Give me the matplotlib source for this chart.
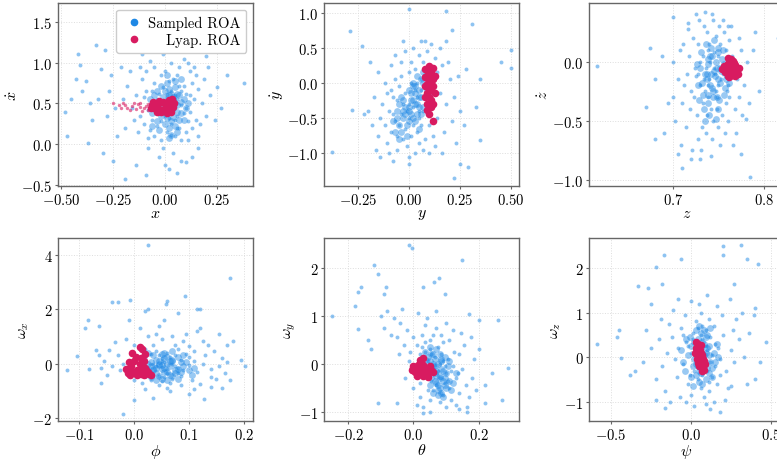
import matplotlib
matplotlib.use("Agg")
import matplotlib.pyplot as plt
from matplotlib.lines import Line2D
from matplotlib.ticker import FuncFormatter

plt.rcParams['font.family'] = ['cmr10', 'DejaVu Sans']
plt.rcParams['mathtext.fontset'] = 'cm'
plt.rcParams['axes.unicode_minus'] = True

BLUE = '#1E88E5'
RED = '#D81B60'

# ---------------- Panel 1: x vs xdot ----------------
p1_blue_x = [0.00,0.02,-0.03,0.05,-0.06,0.08,-0.01,0.03,0.06,-0.04,
             0.01,0.10,-0.08,0.04,-0.02,0.07,0.12,-0.10,0.00,0.03,
             -0.05,0.09,-0.07,0.02,0.11,-0.12,0.05,-0.03,0.06,0.14,
             -0.09,0.01,0.08,-0.04,0.13,-0.01,0.04,-0.06,0.10,0.07,
             -0.11,0.15,-0.02,0.03,0.09,-0.08,0.16,-0.05,0.00,0.06,
             -0.14,0.12,-0.03,0.02,0.18,-0.10,0.05,-0.07,0.11,0.01,
             -0.16,0.08,0.04,-0.13,0.14,-0.01,0.19,0.06,-0.09,0.10,
             -0.18,0.03,0.13,-0.04,0.07,-0.15,0.16,0.00,0.09,-0.06,
             0.20,-0.12,0.05,-0.20,0.12,-0.02,0.15,-0.08,0.02,0.22,
             -0.19,0.08,-0.11,0.17,-0.24,0.11,-0.05,0.21,-0.17,0.06,
             -0.48,-0.47,-0.42,-0.41,-0.40,-0.43,-0.33,-0.29,-0.38,-0.35,
             0.38,0.25,-0.19,-0.30,0.10,0.20,-0.22,-0.37,-0.26,-0.32,
             -0.25,0.24,-0.28,0.22,-0.14,0.16,-0.36,-0.31,0.27,-0.23,
             -0.45,0.30,-0.09,0.13,-0.27,0.18,-0.04,-0.13,0.09,-0.21]
p1_blue_y = [0.45,0.52,0.38,0.60,0.30,0.48,0.70,0.25,0.35,0.55,
             0.15,0.62,0.42,0.80,0.05,0.20,0.40,0.58,0.90,0.65,
             0.75,0.72,0.18,0.32,0.28,0.35,0.10,0.62,0.85,0.55,
             0.65,0.58,0.05,0.22,0.75,-0.05,0.42,0.50,0.15,0.95,
             0.80,0.30,0.28,1.00,0.38,0.08,0.68,0.95,0.35,0.55,
             0.60,0.90,-0.15,0.78,0.50,0.25,0.30,1.02,0.05,0.62,
             0.45,0.65,-0.10,0.15,0.95,1.10,0.80,0.20,0.90,0.45,
             0.72,0.12,0.20,0.40,0.72,0.30,0.10,-0.25,1.05,0.65,
             0.35,0.95,1.15,0.55,0.60,0.85,0.85,-0.05,-0.30,0.60,
             0.20,-0.20,1.10,0.25,0.45,1.00,0.10,0.95,0.90,-0.35,
             0.40,0.10,1.10,0.97,0.65,0.80,1.22,1.16,0.78,0.30,
             0.75,0.70,-0.42,-0.10,-0.22,1.08,1.14,0.02,0.85,0.55,
             -0.20,0.30,0.35,1.15,-0.25,-0.05,0.50,0.92,0.45,0.10,
             0.55,0.85,-0.38,-0.15,0.65,1.20,1.25,1.20,1.22,0.95]
p1_core_x = [0.01,-0.02,0.04,0.06,-0.05,0.03,0.00,0.08,-0.03,0.05,0.02,-0.06,0.07,0.01,-0.01,0.04,0.09,-0.04,0.03,0.06,
             0.00,0.05,-0.02,0.08,0.02,-0.07,0.04,0.10,-0.03,0.01,0.06,0.03,-0.05,0.07,0.00,0.05,-0.01,0.09,0.02,0.04,
             -0.04,0.06,0.01,0.08,-0.02,0.03,0.11,0.05,-0.06,0.02]
p1_core_y = [0.50,0.35,0.55,0.40,0.60,0.28,0.65,0.52,0.48,0.70,0.20,0.38,0.30,0.75,0.58,0.45,0.55,0.28,0.62,0.15,
             0.40,0.50,0.72,0.38,0.08,0.55,0.33,0.45,0.18,0.85,0.62,0.42,0.45,0.60,0.25,0.22,0.52,0.30,0.68,0.58,
             0.65,0.48,0.32,0.80,0.40,0.12,0.50,0.78,0.22,0.60]
p1_red_x = [0.00,-0.02,0.02,-0.04,0.03,-0.01,0.01,-0.03,0.02,-0.05,
            0.04,-0.02,0.00,-0.06,0.03,-0.01,0.01,-0.04,0.02,-0.03,
            0.045,-0.065,0.035,-0.055]
p1_red_y = [0.45,0.42,0.48,0.46,0.40,0.52,0.38,0.50,0.54,0.44,
            0.46,0.39,0.50,0.48,0.51,0.41,0.46,0.40,0.43,0.53,
            0.50,0.45,0.56,0.52]
p1_tail_x = [-0.07,-0.08,-0.10,-0.12,-0.14,-0.16,-0.18,-0.20,-0.22,-0.25,-0.11,-0.09,-0.13,-0.17,-0.06,
             -0.15,-0.19,-0.21,-0.08,-0.12]
p1_tail_y = [0.45,0.49,0.44,0.46,0.43,0.47,0.45,0.50,0.48,0.50,0.41,0.47,0.49,0.42,0.52,
             0.51,0.48,0.45,0.42,0.50]

# ---------------- Panel 2: y vs ydot ----------------
p2_blue_x = [0.00,0.03,-0.04,0.06,-0.07,0.02,0.08,-0.02,0.05,-0.06,
             0.10,-0.09,0.01,0.04,-0.03,0.12,-0.10,0.07,0.00,-0.05,
             0.09,-0.12,0.03,0.14,-0.01,0.06,-0.08,0.11,0.02,-0.04,
             0.15,-0.11,0.05,-0.02,0.08,-0.06,0.13,-0.14,0.01,0.10,
             -0.03,0.04,-0.09,0.16,-0.07,0.07,0.02,-0.15,0.12,-0.01,
             0.18,-0.10,0.09,0.05,-0.05,0.00,0.14,-0.13,0.06,-0.16,
             0.11,0.03,0.17,-0.04,0.20,-0.08,0.08,-0.12,0.13,0.04,
             -0.17,0.22,-0.02,0.15,-0.06,0.01,0.19,-0.11,0.10,0.07,
             -0.14,0.24,0.06,-0.18,0.21,-0.03,0.16,0.12,-0.09,0.25,
             0.00,-0.19,0.28,0.18,-0.07,0.23,-0.20,0.05,0.27,-0.15,
             -0.38,-0.29,-0.28,-0.23,-0.22,0.50,0.50,0.45,0.31,0.18,
             0.00,0.21,0.35,0.22,0.29,0.25,0.00,-0.08,0.35,0.33]
p2_blue_y = [-0.30,-0.10,-0.45,0.05,-0.55,-0.60,-0.20,-0.15,-0.40,-0.25,
             0.10,-0.70,0.00,-0.70,-0.80,-0.05,-0.40,0.30,-0.50,-0.05,
             -0.45,-0.60,0.20,0.15,-0.90,-0.60,-0.20,-0.30,-0.35,0.10,
             -0.15,-0.85,0.40,-0.65,-0.80,-0.95,0.35,-0.50,0.30,-0.60,
             -0.30,-0.20,-0.10,0.25,0.05,-0.95,0.50,-0.75,-0.75,-0.40,
             -0.30,-1.00,0.45,-0.85,-0.60,0.15,-0.50,-0.30,-0.10,-0.95,
             0.55,-1.00,-0.70,0.30,0.05,-0.45,0.60,0.00,-0.90,0.00,
             -0.20,-0.20,0.45,0.50,-0.75,-0.75,0.30,-0.15,-1.00,-0.40,
             -1.05,0.10,0.60,-0.60,-0.55,0.60,-1.00,0.20,0.25,-0.40,
             -1.05,0.30,0.20,0.60,0.40,-0.85,-0.40,-0.50,-0.60,0.15,
             -0.98,0.74,-0.38,0.53,-0.45,0.47,0.22,0.30,0.84,1.02,
             1.05,0.76,-0.82,-1.35,-1.20,-1.15,-1.15,-1.12,0.05,-0.35]
p2_core_x = [0.02,0.00,0.05,-0.03,0.07,-0.05,0.03,0.01,-0.02,0.06,0.04,-0.06,0.08,0.00,-0.04,0.05,0.02,-0.07,0.09,0.03,
             -0.01,0.06,-0.03,0.04,0.01,-0.05,0.07,0.10,-0.08,0.02,0.05,-0.02,0.00,0.08,0.03,-0.04,0.06,0.01,-0.06,0.04,
             0.11,-0.01,0.07,-0.03,0.02,0.05,0.09,-0.05,0.00,0.03]
p2_core_y = [-0.25,-0.40,-0.10,-0.50,0.00,-0.60,-0.30,-0.15,-0.35,-0.20,-0.45,-0.40,0.10,-0.55,-0.20,-0.35,-0.05,-0.70,-0.10,-0.55,
             -0.60,0.05,-0.25,-0.30,-0.45,-0.30,-0.35,0.20,-0.55,0.00,-0.65,-0.45,-0.10,-0.05,-0.15,-0.70,-0.45,-0.25,-0.50,0.10,
             -0.15,-0.75,0.15,-0.40,-0.50,-0.20,-0.30,-0.80,-0.35,-0.05]
p2_red_x = [0.10,0.09,0.11,0.08,0.12,0.10,0.09,0.11,0.12,0.08,
            0.10,0.11,0.09,0.12,0.08,0.10,0.11,0.09,0.12,0.10,
            0.08,0.11,0.13,0.09,0.10,0.12,0.11,0.13,0.10,0.09]
p2_red_y = [0.00,0.10,-0.10,0.20,0.22,-0.20,-0.30,0.15,0.05,-0.05,
            0.24,-0.25,-0.15,-0.05,0.08,0.12,0.02,-0.38,-0.30,-0.08,
            -0.20,0.20,0.10,0.18,-0.45,-0.55,-0.35,-0.15,0.06,-0.02]

# ---------------- Panel 3: z vs zdot ----------------
p3_blue_x = [0.745,0.740,0.750,0.735,0.755,0.730,0.748,0.738,0.760,0.742,
             0.725,0.752,0.733,0.765,0.744,0.728,0.758,0.736,0.720,0.770,
             0.747,0.732,0.754,0.741,0.715,0.762,0.726,0.749,0.737,0.772,
             0.718,0.757,0.743,0.730,0.766,0.710,0.751,0.722,0.775,0.739,
             0.746,0.734,0.761,0.714,0.727,0.756,0.708,0.768,0.744,0.731,
             0.752,0.778,0.712,0.740,0.724,0.759,0.705,0.773,0.736,0.748,
             0.719,0.764,0.729,0.781,0.702,0.753,0.742,0.738,0.717,0.769,
             0.733,0.750,0.723,0.758,0.745,0.711,0.776,0.737,0.762,0.727,
             0.700,0.783,0.734,0.755,0.709,0.766,0.747,0.721,0.743,0.788,
             0.617,0.675,0.670,0.680,0.690,0.700,0.705,0.710,0.720,0.730,
             0.735,0.725,0.760,0.785,0.790,0.795,0.780,0.775,0.815,0.700,
             0.680,0.688,0.716,0.695]
p3_blue_y = [-0.05,-0.15,0.05,-0.25,-0.10,0.00,-0.30,0.10,-0.20,-0.40,
             -0.12,0.15,-0.35,0.05,-0.50,0.15,-0.35,-0.05,-0.25,-0.15,
             0.22,-0.55,-0.45,0.00,-0.10,0.18,-0.45,-0.20,0.25,-0.30,
             0.05,-0.60,-0.65,-0.20,-0.05,-0.35,0.30,0.20,0.10,-0.30,
             -0.10,0.30,-0.50,-0.55,-0.65,0.25,0.10,-0.40,0.35,-0.75,
             -0.70,-0.20,-0.20,0.15,-0.05,-0.25,-0.15,0.20,-0.60,-0.40,
             -0.40,0.30,0.35,0.00,-0.50,-0.15,-0.80,-0.20,0.28,-0.60,
             0.05,-0.55,-0.30,0.10,0.08,0.15,-0.45,-0.45,-0.30,-0.10,
             -0.30,-0.35,-0.15,0.35,-0.70,-0.70,-0.25,-0.75,0.40,0.10,
             -0.04,0.12,-0.38,-0.65,-0.60,0.38,-0.78,-0.90,-0.82,-0.82,
             0.42,0.40,0.30,-0.97,0.25,-0.25,-0.48,-0.78,0.20,0.00,
             -0.15,0.05,0.33,-0.35]
p3_core_x = [0.745,0.738,0.752,0.741,0.748,0.735,0.756,0.743,0.730,0.750,0.739,0.758,0.746,0.733,0.754,0.742,0.737,0.760,0.749,0.728,
             0.744,0.751,0.736,0.757,0.740,0.747,0.731,0.753,0.738,0.745,0.726,0.759,0.742,0.750,0.734,0.755,0.747,0.739,0.762,0.744,
             0.732,0.752,0.741,0.737,0.749,0.729,0.756,0.743,0.748,0.735]
p3_core_y = [-0.08,-0.02,-0.18,0.05,-0.30,-0.10,-0.02,-0.22,-0.05,0.08,-0.35,-0.15,-0.12,-0.28,0.02,0.12,-0.15,-0.08,-0.40,-0.20,
             -0.25,-0.32,0.15,-0.22,-0.45,0.00,0.08,-0.08,-0.28,0.18,-0.02,-0.12,-0.10,-0.15,-0.40,0.10,-0.48,0.02,-0.18,-0.30,
             -0.18,-0.05,-0.20,-0.10,0.12,-0.32,-0.28,0.05,-0.05,-0.50]
p3_red_x = [0.763,0.760,0.766,0.758,0.768,0.762,0.765,0.770,0.757,0.761,
            0.764,0.767,0.759,0.771,0.756,0.763,0.769,0.761,0.766,0.754,
            0.762,0.768,0.760,0.765,0.772]
p3_red_y = [-0.05,-0.02,-0.08,-0.06,-0.03,0.00,-0.11,-0.07,-0.09,-0.12,
            0.02,-0.01,-0.03,-0.10,-0.04,-0.09,-0.05,-0.07,0.01,-0.06,
            -0.13,-0.12,0.03,-0.04,-0.05]

# ---------------- Panel 4: phi vs omega_x ----------------
p4_blue_x = [0.04,0.05,0.03,0.06,0.02,0.07,0.01,0.08,0.045,0.055,
             0.035,0.065,0.025,0.075,0.015,0.085,0.09,0.005,0.05,0.04,
             0.10,-0.005,0.06,0.03,0.11,0.07,-0.01,0.095,0.02,0.115,
             0.045,0.08,-0.02,0.125,0.06,0.035,-0.025,0.105,0.075,0.13,
             0.015,-0.03,0.14,0.09,0.05,-0.04,0.12,0.00,0.145,0.065,
             -0.045,0.10,0.025,0.155,-0.05,0.085,0.04,0.135,-0.015,0.16,
             0.07,-0.055,0.11,0.02,0.15,0.095,-0.035,0.165,0.05,0.03,
             0.06,0.075,0.045,0.055,0.085,0.065,0.11,0.035,0.10,0.08,
             -0.06,0.17,0.125,0.00,0.14,-0.065,0.175,0.115,0.01,0.045,
             0.025,0.175,0.093,0.120,0.115,0.060,0.058,-0.008,-0.030,-0.040,
             0.025,0.020,-0.085,-0.090,-0.065,-0.105,-0.122,-0.082,0.203,0.195,
             0.180,0.170,0.155,0.160,0.128,0.000,-0.020,0.055,0.080,-0.010,
             0.140,0.120,-0.070,-0.060,0.100,0.035]
p4_blue_y = [-0.10,0.10,-0.30,-0.20,0.20,0.00,-0.40,-0.35,0.30,-0.50,
             0.00,0.25,-0.15,-0.10,0.05,0.15,-0.25,-0.20,-0.65,0.45,
             -0.05,0.10,0.40,-0.60,0.10,-0.55,-0.35,0.35,0.55,-0.30,
             -0.80,0.55,0.00,0.00,-0.90,0.70,-0.25,-0.60,0.70,0.30,
             -0.70,0.30,-0.20,0.85,0.90,-0.10,-0.75,0.70,0.45,-1.00,
             0.50,0.65,1.00,-0.10,-0.40,-0.80,1.10,0.70,0.90,0.20,
             1.00,0.10,-0.95,-0.95,-0.55,1.10,0.80,-0.35,0.20,0.35,
             -0.35,0.30,-0.45,0.05,-0.45,-0.70,0.45,-0.45,0.25,-0.15,
             -0.15,0.05,0.85,-0.60,-0.85,0.30,-0.60,1.20,1.30,1.40,
             4.35,3.15,2.48,2.00,2.00,2.30,2.20,2.35,2.25,2.25,
             2.00,1.95,1.60,1.30,1.40,0.28,-0.25,-0.20,-0.07,0.15,
             0.85,0.70,1.10,-0.88,-1.30,-1.35,-1.85,1.60,1.85,1.60,
             -0.50,1.30,0.50,-0.70,-1.10,-1.25]
p4_core_x = [0.04,0.05,0.03,0.06,0.07,0.02,0.08,0.045,0.055,0.035,0.065,0.025,0.075,0.085,0.04,0.05,0.06,0.03,0.09,0.07,
             0.045,0.055,0.035,0.065,0.08,0.10,0.02,0.05,0.04,0.06,0.075,0.085,0.03,0.095,0.055,0.045,0.065,0.07,0.04,0.105,
             0.05,0.06,0.035,0.08,0.025,0.09,0.055,0.045,0.11,0.07]
p4_core_y = [-0.15,-0.05,0.05,-0.30,0.10,-0.40,-0.20,-0.45,0.20,-0.25,-0.10,0.00,-0.35,0.05,0.15,-0.55,0.25,-0.10,-0.10,-0.45,
             0.00,-0.30,0.30,0.10,0.25,-0.25,-0.30,0.35,-0.35,-0.60,-0.25,-0.30,-0.50,0.05,0.40,0.10,-0.40,0.15,-0.60,-0.40,
             -0.20,0.00,-0.20,-0.55,0.40,0.30,-0.15,-0.05,-0.15,0.45]
p4_red_x = [0.000,0.010,-0.010,0.020,0.005,-0.005,0.015,0.025,-0.012,0.010,
            0.020,0.000,-0.008,0.018,0.028,0.005,-0.010,0.012,0.020,-0.004,
            0.015,0.008,0.022,-0.015,0.003,0.030,0.012,-0.006,0.018,0.010]
p4_red_y = [-0.30,-0.20,-0.25,-0.35,-0.40,-0.10,-0.05,-0.30,-0.35,0.00,
            -0.15,0.10,-0.42,-0.42,-0.38,-0.25,0.05,0.20,0.35,0.40,
            0.55,-0.30,-0.22,-0.18,0.25,-0.40,-0.38,-0.32,0.10,0.60]

# ---------------- Panel 5: theta vs omega_y ----------------
p5_blue_x = [0.06,0.04,0.08,0.03,0.09,0.05,0.07,0.02,0.10,0.01,
             0.11,0.04,0.065,0.085,0.00,0.12,0.035,0.095,-0.01,0.13,
             0.055,0.075,0.025,0.105,-0.02,0.14,0.045,0.115,0.015,0.09,
             -0.03,0.15,0.06,0.125,0.08,-0.04,0.02,0.16,0.035,0.10,
             -0.05,0.14,0.005,0.17,0.07,-0.06,0.11,0.05,0.13,-0.015,
             0.18,0.04,-0.07,0.09,0.155,0.02,0.12,-0.08,0.185,0.00,
             0.065,0.045,0.085,0.075,0.055,0.095,0.035,0.06,0.105,0.08,
             -0.025,0.145,0.19,0.015,-0.045,0.115,-0.09,0.165,0.03,0.10,
             0.07,-0.035,0.135,0.05,0.025,-0.10,0.175,0.01,0.14,0.085,
             -0.250,-0.180,-0.170,-0.160,-0.170,-0.120,-0.110,-0.085,-0.090,-0.015,
             -0.005,0.148,0.078,0.062,0.095,0.030,0.290,0.260,0.270,0.220,
             0.220,0.200,0.170,0.165,-0.110,-0.050,0.050,0.030,0.200,0.240,
             -0.140,-0.130]
p5_blue_y = [-0.10,0.10,-0.30,-0.05,0.05,0.30,-0.45,0.20,-0.20,0.40,
             -0.50,-0.25,0.15,-0.60,0.55,-0.05,0.45,-0.40,0.25,-0.30,
             -0.35,0.35,0.60,0.10,0.70,-0.60,-0.55,-0.75,0.00,0.45,
             0.40,-0.10,0.60,0.25,-0.80,0.85,-0.40,-0.45,0.80,-0.90,
             0.55,0.20,-0.20,-0.70,0.75,0.95,0.50,-0.75,-0.85,0.05,
             -0.30,0.95,0.60,-0.65,0.40,-0.70,0.70,1.10,0.10,-0.50,
             -0.20,0.05,0.20,-0.15,0.20,-0.05,0.25,-0.55,-0.35,0.00,
             -0.30,0.65,-0.55,1.05,0.20,-0.15,0.75,-0.90,-0.90,0.85,
             1.10,1.15,-0.20,0.50,0.35,1.00,0.55,-0.85,-0.95,0.60,
             1.00,1.20,1.50,1.60,0.72,2.05,1.88,1.60,1.45,2.48,
             2.42,2.17,1.78,1.70,1.45,1.60,-0.08,0.92,-0.75,-0.45,
             -0.82,0.92,1.03,-1.00,-0.82,-0.82,-1.00,-1.02,0.30,-0.20,
             0.50,0.30]
p5_core_x = [0.07,0.06,0.08,0.05,0.09,0.065,0.075,0.055,0.085,0.045,0.095,0.07,0.06,0.08,0.10,0.04,0.11,0.065,0.075,0.035,
             0.12,0.055,0.085,0.09,0.05,0.07,0.105,0.06,0.08,0.045,0.095,0.03,0.115,0.065,0.075,0.085,0.055,0.10,0.07,0.13,
             0.06,0.09,0.04,0.08,0.11,0.05,0.075,0.065,0.095,0.085]
p5_core_y = [-0.15,-0.05,-0.25,0.05,-0.35,-0.20,0.00,-0.30,-0.10,0.15,-0.45,-0.40,0.20,-0.50,-0.20,0.00,-0.35,0.10,-0.55,0.25,
             -0.40,-0.10,0.10,-0.15,-0.45,0.30,-0.05,-0.60,-0.30,-0.25,0.15,0.05,-0.55,-0.35,-0.45,-0.60,0.20,-0.50,-0.25,-0.20,
             0.00,-0.70,-0.10,0.20,0.05,0.35,-0.65,-0.05,-0.30,0.05]
p5_red_x = [0.020,0.010,0.030,0.000,0.040,0.015,0.025,0.035,0.005,0.045,
            0.050,-0.005,0.020,0.030,0.010,0.040,0.055,0.025,0.015,0.035,
            0.020,0.028,0.045,-0.002,0.060,0.010,0.030,0.050]
p5_red_y = [-0.13,-0.10,-0.15,-0.08,-0.12,-0.20,-0.05,-0.22,-0.18,-0.08,
            -0.15,-0.12,0.00,-0.25,-0.25,-0.20,-0.12,-0.18,-0.03,-0.10,
            0.08,0.12,-0.27,-0.05,-0.18,-0.15,-0.02,-0.05]

# ---------------- Panel 6: psi vs omega_z ----------------
p6_blue_x = [0.05,0.03,0.08,0.00,0.10,0.02,0.12,-0.03,0.07,0.15,
             -0.05,0.04,0.18,-0.08,0.09,0.01,0.13,-0.10,0.06,0.20,
             -0.02,0.11,-0.12,0.16,0.03,-0.06,0.22,0.08,-0.15,0.14,
             0.00,0.25,-0.09,0.06,-0.18,0.19,0.11,-0.04,0.27,-0.14,
             0.05,0.07,0.02,0.09,0.04,0.10,0.01,0.12,-0.01,0.13,
             -0.20,0.23,0.05,-0.07,0.30,0.16,-0.22,0.09,-0.11,0.28,
             0.00,0.21,-0.25,0.14,-0.16,0.33,0.07,-0.03,0.24,-0.19,
             0.17,0.08,0.03,0.06,0.11,-0.02,0.15,0.04,-0.05,0.18,
             0.10,-0.08,0.35,-0.28,0.12,0.26,-0.13,0.02,0.32,-0.30,
             -0.59,-0.45,-0.44,-0.46,-0.35,-0.38,-0.33,-0.27,-0.22,-0.17,
             -0.06,0.20,0.20,0.31,0.35,0.42,0.47,0.43,0.40,0.36,
             0.40,0.18,-0.16,-0.22,0.55,0.39,-0.18,0.27,0.25,-0.25]
p6_blue_y = [0.00,0.20,-0.20,0.10,0.15,-0.30,-0.10,0.35,0.40,0.30,
             -0.15,-0.50,-0.05,0.20,0.60,0.55,-0.45,-0.05,-0.70,0.50,
             -0.60,0.85,0.45,-0.60,0.80,0.65,-0.30,-0.90,0.10,0.70,
             -0.85,0.15,-0.45,1.00,-0.20,0.95,-0.75,0.95,-0.10,0.75,
             0.30,-0.40,0.05,0.25,-0.25,-0.30,0.40,0.45,-0.40,0.05,
             0.40,-0.70,1.20,-0.90,0.40,1.15,-0.50,-1.05,1.05,0.85,
             1.25,-0.95,0.20,-1.00,-0.75,0.00,0.70,-1.00,1.30,0.85,
             0.20,0.10,-0.10,0.50,-0.55,0.25,-0.20,0.65,0.50,-0.40,
             1.40,1.30,-0.60,0.60,-1.15,0.60,-1.00,-1.10,1.00,-0.10,
             0.30,0.60,-0.02,0.45,-0.32,-0.40,1.60,1.55,2.03,2.30,
             2.20,2.30,2.50,2.52,2.20,2.08,0.35,-0.10,1.10,0.55,
             -0.50,-1.23,-1.13,-0.95,2.25,0.95,1.65,1.65,-0.65,1.20]
p6_core_x = [0.06,0.04,0.08,0.02,0.10,0.05,0.07,0.00,0.12,0.03,0.09,-0.02,0.11,0.06,0.01,0.14,0.04,0.08,-0.04,0.13,
             0.05,0.07,0.10,0.02,0.09,-0.06,0.15,0.03,0.06,0.11,0.00,0.08,0.04,0.16,-0.03,0.12,0.07,0.05,0.09,0.01,
             0.10,-0.01,0.06,0.13,0.03,0.08,0.17,0.05,-0.05,0.11]
p6_core_y = [0.00,0.15,-0.15,-0.05,0.20,-0.30,0.35,0.25,-0.10,-0.40,0.45,0.05,-0.35,0.55,-0.20,0.10,0.40,0.30,-0.30,-0.25,
             -0.55,-0.05,0.50,0.35,-0.50,0.15,-0.10,0.60,-0.35,0.25,-0.45,0.05,-0.20,0.30,0.40,0.65,-0.60,0.10,0.10,-0.65,
             -0.25,0.45,0.20,-0.45,-0.15,0.60,0.00,0.70,-0.10,0.05]
p6_red_x = [0.050,0.040,0.060,0.030,0.070,0.045,0.055,0.035,0.065,0.050,
            0.040,0.070,0.080,0.025,0.075,0.050,0.045,0.060,0.035,0.065,
            0.030,0.085,0.055,0.045,0.060,0.070,0.040,0.050,0.080,0.065]
p6_red_y = [0.00,0.10,-0.10,0.20,-0.20,0.05,-0.05,0.15,-0.15,0.25,
            0.30,-0.25,-0.28,0.10,-0.05,-0.20,0.20,0.10,-0.05,0.05,
            0.35,-0.15,0.15,-0.12,0.28,0.00,-0.02,0.12,-0.08,-0.30]

x_labels = [r'$x$', r'$y$', r'$z$', r'$\phi$', r'$\theta$', r'$\psi$']
y_labels = [r'$\dot{x}$', r'$\dot{y}$', r'$\dot{z}$', r'$\omega_x$', r'$\omega_y$', r'$\omega_z$']
x_ticks = [[-0.5, -0.25, 0.0, 0.25], [-0.25, 0.0, 0.25, 0.5], [0.7, 0.8],
           [-0.1, 0.0, 0.1, 0.2], [-0.2, 0.0, 0.2], [-0.5, 0.0, 0.5]]
y_ticks = [[-0.5, 0.0, 0.5, 1.0, 1.5], [-1.0, -0.5, 0.0, 0.5, 1.0], [-1.0, -0.5, 0.0],
           [-2, 0, 2, 4], [-1, 0, 1, 2], [-1, 0, 1, 2]]
legend_labels = ['Sampled ROA', 'Lyap. ROA']

panels = [
    dict(bx=p1_blue_x, by=p1_blue_y, cx=p1_core_x, cy=p1_core_y, rx=p1_red_x, ry=p1_red_y,
         tx=p1_tail_x, ty=p1_tail_y, xlim=(-0.515, 0.425), ylim=(-0.51, 1.73), xf='%.2f', yf='%.1f'),
    dict(bx=p2_blue_x, by=p2_blue_y, cx=p2_core_x, cy=p2_core_y, rx=p2_red_x, ry=p2_red_y,
         xlim=(-0.417, 0.54), ylim=(-1.47, 1.14), xf='%.2f', yf='%.1f'),
    dict(bx=p3_blue_x, by=p3_blue_y, cx=p3_core_x, cy=p3_core_y, rx=p3_red_x, ry=p3_red_y,
         xlim=(0.6077, 0.822), ylim=(-1.05, 0.496), xf='%.1f', yf='%.1f'),
    dict(bx=p4_blue_x, by=p4_blue_y, cx=p4_core_x, cy=p4_core_y, rx=p4_red_x, ry=p4_red_y,
         xlim=(-0.139, 0.217), ylim=(-2.11, 4.62), xf='%.1f', yf='%.0f'),
    dict(bx=p5_blue_x, by=p5_blue_y, cx=p5_core_x, cy=p5_core_y, rx=p5_red_x, ry=p5_red_y,
         xlim=(-0.274, 0.323), ylim=(-1.19, 2.62), xf='%.1f', yf='%.0f'),
    dict(bx=p6_blue_x, by=p6_blue_y, cx=p6_core_x, cy=p6_core_y, rx=p6_red_x, ry=p6_red_y,
         xlim=(-0.6375, 0.58), ylim=(-1.43, 2.67), xf='%.1f', yf='%.0f'),
]

W, H = 777, 460
lefts = [58, 324, 589]
tops = [4, 239]
aw, ah = 195, 183

fig = plt.figure(figsize=(W / 100, H / 100), dpi=100)


def make_fmt(f):
    def _f(v, pos):
        s = f % v
        if s.startswith('-'):
            s = s[1:]
            if float(s) == 0:
                return r'$%s$' % s
            return r'$-%s$' % s
        return r'$%s$' % s
    return FuncFormatter(_f)


leg = None
for i, p in enumerate(panels):
    r, c = divmod(i, 3)
    ax = fig.add_axes([lefts[c] / W, 1 - (tops[r] + ah) / H, aw / W, ah / H])
    ax.scatter(p['bx'], p['by'], s=8, color=BLUE, alpha=0.5, linewidths=0, zorder=2)
    ax.scatter(p['cx'], p['cy'], s=24, color=BLUE, alpha=0.45, linewidths=0, zorder=2)
    if 'tx' in p:
        ax.scatter(p['tx'], p['ty'], s=6, color=RED, alpha=0.6, linewidths=0, zorder=3)
    ax.scatter(p['rx'], p['ry'], s=30, color=RED, alpha=1.0, linewidths=0, zorder=3)
    ax.set_xlim(*p['xlim'])
    ax.set_ylim(*p['ylim'])
    ax.set_xticks(x_ticks[i])
    ax.set_yticks(y_ticks[i])
    ax.xaxis.set_major_formatter(make_fmt(p['xf']))
    ax.yaxis.set_major_formatter(make_fmt(p['yf']))
    ax.grid(True, color='#dddddd', linestyle=':', linewidth=0.7, zorder=0)
    ax.set_axisbelow(True)
    for sp in ax.spines.values():
        sp.set_color('#666666')
        sp.set_linewidth(1.0)
    ax.tick_params(labelsize=10.5, length=2.5, width=0.8, color='#666666', pad=1.5)
    ax.set_xlabel(x_labels[i], fontsize=11.5, labelpad=0)
    ax.set_ylabel(y_labels[i], fontsize=11.5, labelpad=1)
    if i == 0:
        handles = [Line2D([], [], marker='o', linestyle='', color=BLUE, markersize=4.5),
                   Line2D([], [], marker='o', linestyle='', color=RED, markersize=4.5)]
        leg = ax.legend(handles, legend_labels, loc='upper right', fontsize=10.5,
                        handlelength=1.6, handletextpad=0.2, borderpad=0.4, labelspacing=0.25,
                        borderaxespad=0.45, framealpha=1.0, edgecolor='#cccccc')

# right-align the legend texts (as in the reference)
fig.canvas.draw()
renderer = fig.canvas.get_renderer()
texts = leg.get_texts()
widths = [t.get_window_extent(renderer).width for t in texts]
wmax = max(widths)
for t, w in zip(texts, widths):
    t.set_position((wmax - w, 0))

fig.savefig('out.png', dpi=100)
